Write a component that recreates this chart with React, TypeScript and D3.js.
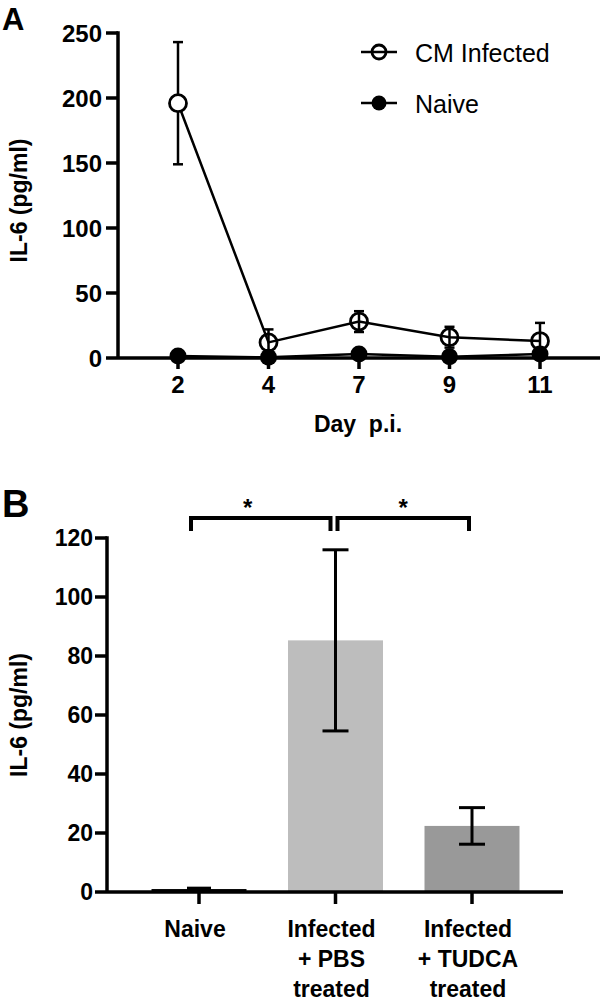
import React from 'react';
import * as d3 from 'd3';

// Panel A data
const days = ['2', '4', '7', '9', '11'];
const cmMean = [196, 12, 28, 16, 13];
const cmErr = [47, 10, 8, 8, 14];
const naiveMean = [1.5, 0.5, 3, 1, 3];
const naiveErr = [0.8, 0.5, 1, 0.8, 1];
const aTicks = [0, 50, 100, 150, 200, 250];

// Panel B data
const groups = ['Naive', 'PBS', 'TUDCA'];
const groupLabels = [['Naive'], ['Infected', '+ PBS', 'treated'], ['Infected', '+ TUDCA', 'treated']];
const barMean = [1.0, 85.3, 22.4];
const barErr = [0.3, 30.7, 6.2];
const barColors = ['#000000', '#bdbdbd', '#999999'];
const bTicks = [0, 20, 40, 60, 80, 100, 120];
const comparisons = [['Naive', 'PBS', '*'], ['PBS', 'TUDCA', '*']];

const FONT = '"Liberation Sans", Arial, Helvetica, sans-serif';

export default function App() {
  // Panel A scales
  const xA = d3.scalePoint<string>().domain(days).range([178, 540]);
  const yA = d3.scaleLinear().domain([0, 250]).range([358, 33]);
  const axA = 118;
  const cmLine = d3.line<number>().x((_, i) => xA(days[i])!).y((d) => yA(d));

  // Panel B scales
  const xB = d3.scalePoint<string>().domain(groups).range([199, 472]);
  const yB = d3.scaleLinear().domain([0, 120]).range([892, 538]);
  const axB = 107;
  const barW = 95;
  const starShift = [-13, 0];

  const sw = 3.5;
  const r = 8.5;

  return (
    <svg width={602} height={1008} style={{ position: 'absolute', left: 0, top: 0, background: '#fff' }} fontFamily={FONT}>
      <rect x={0} y={0} width={602} height={1008} fill="#fff" />
      {/* ---------- Panel A ---------- */}
      <text x={2} y={30} fontSize={31} fontWeight="bold">A</text>
      {/* y axis */}
      <line x1={axA} x2={axA} y1={yA(250) - sw / 2} y2={yA(0)} stroke="#000" strokeWidth={sw} />
      {aTicks.map((t) => (
        <g key={'at' + t}>
          <line x1={axA - 12} x2={axA} y1={yA(t)} y2={yA(t)} stroke="#000" strokeWidth={sw} />
          <text x={axA - 16} y={yA(t)} dy="0.36em" textAnchor="end" fontSize={24} fontWeight="bold">{t}</text>
        </g>
      ))}
      <text transform={`translate(27,${(yA(0) + yA(250)) / 2 + 5}) rotate(-90)`} textAnchor="middle" fontSize={23} fontWeight="bold">IL-6 (pg/ml)</text>
      {/* x axis */}
      <line x1={axA} x2={600} y1={yA(0)} y2={yA(0)} stroke="#000" strokeWidth={sw} />
      {days.map((d) => (
        <g key={'ax' + d}>
          <line x1={xA(d)} x2={xA(d)} y1={yA(0)} y2={yA(0) + 11} stroke="#000" strokeWidth={sw} />
          <text x={xA(d)} y={393} textAnchor="middle" fontSize={24} fontWeight="bold">{d}</text>
        </g>
      ))}
      <text x={358} y={432} textAnchor="middle" fontSize={23} fontWeight="bold" xmlSpace="preserve">Day  p.i.</text>

      {/* Naive series */}
      <path d={cmLine(naiveMean) || ''} fill="none" stroke="#000" strokeWidth={2.5} />
      {naiveMean.map((m, i) => (
        <g key={'nv' + i}>
          <line x1={xA(days[i])} x2={xA(days[i])} y1={yA(m + naiveErr[i])} y2={yA(Math.max(0, m - naiveErr[i]))} stroke="#000" strokeWidth={2.5} />
          <circle cx={xA(days[i])} cy={yA(m)} r={r} fill="#000" />
        </g>
      ))}
      {/* CM infected series */}
      <path d={cmLine(cmMean) || ''} fill="none" stroke="#000" strokeWidth={2.5} />
      {cmMean.map((m, i) => {
        const x = xA(days[i])!;
        return (
          <g key={'cm' + i}>
            <line x1={x} x2={x} y1={yA(m + cmErr[i])} y2={yA(m - cmErr[i])} stroke="#000" strokeWidth={2.5} />
            <line x1={x - 5} x2={x + 5} y1={yA(m + cmErr[i])} y2={yA(m + cmErr[i])} stroke="#000" strokeWidth={2.5} />
            <line x1={x - 5} x2={x + 5} y1={yA(m - cmErr[i])} y2={yA(m - cmErr[i])} stroke="#000" strokeWidth={2.5} />
            <circle cx={x} cy={yA(m)} r={r} fill={i === 0 ? '#fff' : 'none'} stroke="#000" strokeWidth={2.8} />
          </g>
        );
      })}

      {/* Legend */}
      <line x1={361} x2={397} y1={52} y2={52} stroke="#000" strokeWidth={2.5} />
      <circle cx={379} cy={52} r={7} fill="none" stroke="#000" strokeWidth={2.8} />
      <text x={415} y={62} fontSize={25}>CM Infected</text>
      <line x1={361} x2={397} y1={103} y2={103} stroke="#000" strokeWidth={2.5} />
      <circle cx={379} cy={103} r={7.5} fill="#000" />
      <text x={415} y={113} fontSize={25}>Naive</text>

      {/* ---------- Panel B ---------- */}
      <text x={2} y={517} fontSize={38} fontWeight="bold">B</text>
      {groups.map((g, i) => (
        <rect key={'bar' + g} x={xB(g)! - barW / 2} y={yB(barMean[i])} width={barW} height={yB(0) - yB(barMean[i])} fill={barColors[i]} />
      ))}
      {groups.map((g, i) => {
        const x = xB(g)!;
        const hw = i === 0 ? 12 : 13;
        return (
          <g key={'eb' + g}>
            <line x1={x} x2={x} y1={yB(barMean[i] + barErr[i])} y2={yB(barMean[i] - barErr[i])} stroke="#000" strokeWidth={3} />
            <line x1={x - hw} x2={x + hw} y1={yB(barMean[i] + barErr[i])} y2={yB(barMean[i] + barErr[i])} stroke="#000" strokeWidth={3} />
            <line x1={x - hw} x2={x + hw} y1={yB(barMean[i] - barErr[i])} y2={yB(barMean[i] - barErr[i])} stroke="#000" strokeWidth={3} />
          </g>
        );
      })}
      {/* y axis */}
      <line x1={axB} x2={axB} y1={yB(120) - sw / 2} y2={yB(0)} stroke="#000" strokeWidth={sw} />
      {bTicks.map((t) => (
        <g key={'bt' + t}>
          <line x1={axB - 12} x2={axB} y1={yB(t)} y2={yB(t)} stroke="#000" strokeWidth={sw} />
          <text x={axB - 14} y={yB(t)} dy="0.36em" textAnchor="end" fontSize={23} fontWeight="bold">{t}</text>
        </g>
      ))}
      <text transform={`translate(27,${(yB(0) + yB(120)) / 2}) rotate(-90)`} textAnchor="middle" fontSize={23} fontWeight="bold">IL-6 (pg/ml)</text>
      {/* x axis */}
      <line x1={axB} x2={563} y1={yB(0)} y2={yB(0)} stroke="#000" strokeWidth={sw} />
      {groups.map((g, i) => (
        <g key={'bx' + g}>
          <line x1={xB(g)} x2={xB(g)} y1={yB(0)} y2={yB(0) + 12} stroke="#000" strokeWidth={sw} />
          {groupLabels[i].map((s, j) => (
            <text key={j} x={xB(g)! - 4} y={937 + j * 30} textAnchor="middle" fontSize={23} fontWeight="bold">{s}</text>
          ))}
        </g>
      ))}
      {/* significance brackets */}
      {comparisons.map(([a, b, s], k) => {
        const x1 = xB(a)! + (k === 0 ? -8 : 2);
        const x2 = xB(b)! + (k === 0 ? -5 : -3);
        const y = 518;
        return (
          <g key={'cmp' + k}>
            <path d={`M${x1},531V${y}H${x2}V531`} fill="none" stroke="#000" strokeWidth={4} />
            <text x={(x1 + x2) / 2 + starShift[k]} y={516} textAnchor="middle" fontSize={24} fontWeight="bold">{s}</text>
          </g>
        );
      })}
    </svg>
  );
}
